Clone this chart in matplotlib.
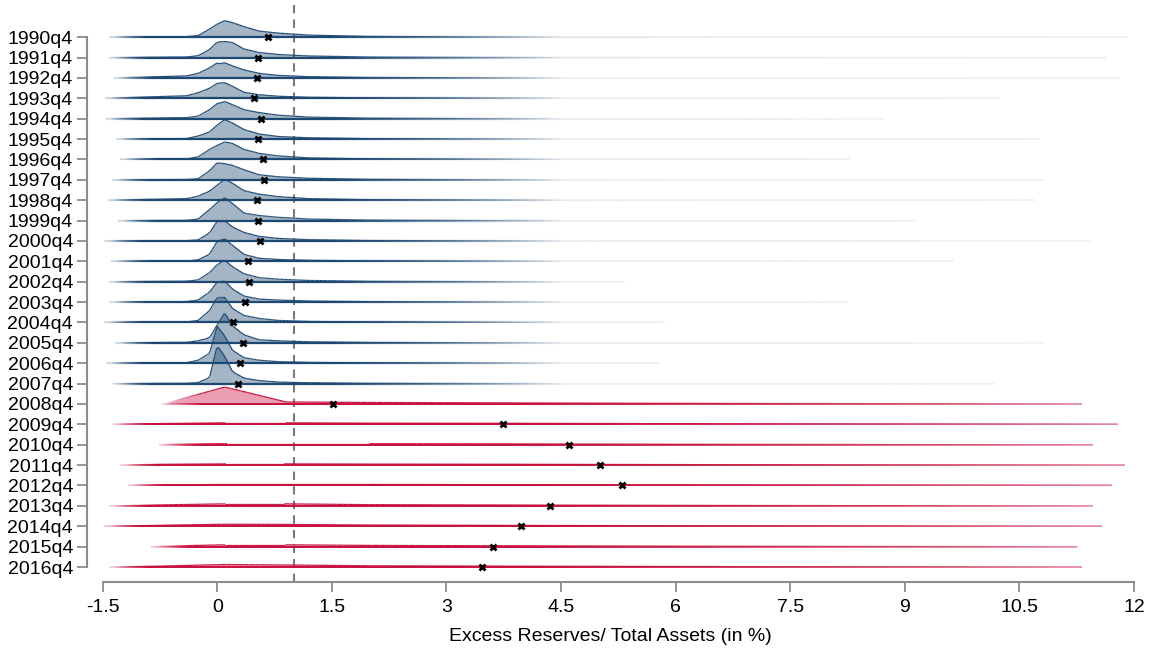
import numpy as np
import matplotlib
matplotlib.use("Agg")
import matplotlib.pyplot as plt
from matplotlib.collections import LineCollection
from matplotlib.colors import to_rgba

plt.rcParams['font.family'] = ['Liberation Sans', 'DejaVu Sans']

quarters = ['1990q4', '1991q4', '1992q4', '1993q4', '1994q4', '1995q4', '1996q4',
            '1997q4', '1998q4', '1999q4', '2000q4', '2001q4', '2002q4', '2003q4',
            '2004q4', '2005q4', '2006q4', '2007q4', '2008q4', '2009q4', '2010q4',
            '2011q4', '2012q4', '2013q4', '2014q4', '2015q4', '2016q4']

# mean excess reserves ratio per quarter (the x markers)
means = [0.66, 0.53, 0.52, 0.48, 0.57, 0.54, 0.60, 0.61, 0.52, 0.54, 0.56, 0.40,
         0.41, 0.36, 0.21, 0.34, 0.30, 0.27, 1.51, 3.74, 4.61, 5.01, 5.30, 4.35,
         3.97, 3.61, 3.46]

# range of observations per quarter
x_min = [-1.41, -1.42, -1.35, -1.47, -1.46, -1.33, -1.27, -1.38, -1.43, -1.30,
         -1.48, -1.39, -1.42, -1.41, -1.48, -1.34, -1.45, -1.37, -0.72, -1.38,
         -0.76, -1.27, -1.17, -1.41, -1.48, -0.87, -1.41]
x_max = [11.92, 11.64, 11.81, 10.24, 8.74, 10.77, 8.28, 10.83, 10.70, 9.13,
         11.42, 9.65, 5.34, 8.25, 5.86, 10.83, 5.79, 10.18, 11.32, 11.79,
         11.46, 11.88, 11.71, 11.46, 11.58, 11.26, 11.32]

# density estimates (pre-crisis quarters, 1990q4-2007q4)
blue_grid = [-0.4, -0.25, -0.1, 0.0, 0.1, 0.2, 0.35, 0.55, 0.8, 1.2, 2.0, 3.5]
blue_dens = [
    [0.5, 1.5, 8.0, 13.0, 16.5, 14.5, 10.5, 6.0, 4.0, 2.0, 0.7, 0.2],
    [0.5, 1.8, 8.0, 15.5, 16.0, 15.0, 8.5, 5.0, 3.0, 1.5, 0.5, 0.2],
    [2.0, 4.5, 10.0, 15.0, 15.0, 12.0, 8.0, 4.5, 2.5, 1.2, 0.4, 0.1],
    [2.5, 5.5, 10.0, 15.0, 15.5, 12.0, 6.0, 3.5, 2.0, 1.0, 0.4, 0.1],
    [1.0, 2.5, 9.0, 15.0, 17.0, 14.0, 9.0, 6.0, 3.5, 1.5, 0.5, 0.1],
    [0.5, 3.0, 7.0, 14.0, 19.5, 16.0, 9.5, 5.0, 2.5, 1.2, 0.4, 0.1],
    [0.5, 2.5, 10.0, 14.0, 17.5, 16.0, 10.0, 6.0, 3.5, 1.5, 0.5, 0.1],
    [0.3, 1.0, 9.0, 17.0, 16.0, 14.5, 10.0, 5.0, 3.0, 1.5, 0.5, 0.1],
    [1.5, 4.0, 9.0, 15.0, 21.0, 17.0, 9.5, 6.0, 3.5, 1.5, 0.5, 0.1],
    [0.2, 1.5, 11.0, 18.0, 23.0, 17.0, 7.5, 5.0, 3.2, 1.5, 0.5, 0.1],
    [0.3, 1.0, 8.0, 20.0, 20.0, 14.0, 8.5, 4.5, 2.5, 1.2, 0.4, 0.1],
    [0.3, 1.5, 7.0, 20.0, 22.5, 16.0, 7.0, 3.0, 1.8, 1.0, 0.4, 0.1],
    [0.5, 1.8, 9.0, 17.0, 21.5, 15.0, 8.0, 4.0, 2.5, 1.2, 0.4, 0.1],
    [0.5, 2.0, 10.0, 20.0, 21.0, 13.0, 6.0, 3.0, 2.0, 1.0, 0.4, 0.1],
    [0.5, 2.0, 12.0, 25.0, 25.0, 14.0, 7.0, 4.0, 2.0, 1.0, 0.4, 0.1],
    [0.5, 2.0, 5.0, 18.0, 30.0, 17.0, 8.0, 3.0, 2.0, 1.0, 0.4, 0.1],
    [0.5, 3.0, 10.0, 37.0, 27.0, 13.0, 5.5, 3.0, 1.5, 0.8, 0.3, 0.1],
    [0.3, 1.0, 6.0, 38.0, 27.0, 12.0, 5.5, 3.0, 1.5, 0.8, 0.3, 0.1],
]

# density estimates (crisis and post-crisis quarters, 2008q4-2016q4)
red_grid = [-1.0, -0.7, 0.1, 0.9, 2.0, 4.0, 7.0]
red_dens = [
    [0.0, 0.0, 17.0, 2.0, 1.5, 1.0, 0.5],
    [0.5, 0.8, 1.5, 1.5, 1.2, 1.0, 0.5],
    [0.0, 0.5, 1.0, 1.0, 1.0, 0.8, 0.4],
    [0.5, 0.8, 1.2, 1.2, 1.0, 0.8, 0.4],
    [0.3, 0.6, 1.0, 1.0, 1.0, 0.8, 0.4],
    [0.5, 1.0, 2.0, 2.0, 1.2, 0.8, 0.4],
    [0.5, 1.0, 2.0, 1.8, 1.2, 0.8, 0.4],
    [0.0, 0.5, 1.8, 1.8, 1.2, 0.8, 0.4],
    [0.5, 1.0, 2.5, 2.0, 1.2, 0.8, 0.4],
]

threshold = 1.0
xticks = [-1.5, 0, 1.5, 3, 4.5, 6, 7.5, 9, 10.5, 12]
xticklabels = ['-1.5', '0', '1.5', '3', '4.5', '6', '7.5', '9', '10.5', '12']

blue = '#1d4872'
red = '#c8103c'
grey = '#8c8c8c'
scale = 1 / 20.4   # density units -> row heights

fig = plt.figure(figsize=(11.54, 6.5), dpi=100)
ax = fig.add_axes([87 / 1154, 68 / 650, 1047 / 1154, 577 / 650])

n = len(quarters)


def faded_line(xs, ys, color, xmin, xmax, crisis, lw):
    xx = np.linspace(xs[0], xs[-1], 400)
    yy = np.interp(xx, xs, ys)
    mid = (xx[:-1] + xx[1:]) / 2
    left = np.clip((mid - xmin) / 0.5, 0.12, 1)
    if crisis:
        right = np.where(mid < 4, 1, 1 - 0.7 * (mid - 4) / max(xmax - 4, 0.1))
    else:
        right = np.where(mid < 1.5, 1, np.clip(1 - 0.95 * (mid - 1.5) / 3.0, 0.04, 1))
    alpha = left * right
    rgba = np.array([to_rgba(color, a) for a in alpha])
    segs = np.stack([np.column_stack([xx[:-1], yy[:-1]]),
                     np.column_stack([xx[1:], yy[1:]])], axis=1)
    ax.add_collection(LineCollection(segs, colors=rgba, linewidths=lw, capstyle='butt'))


for i, q in enumerate(quarters):
    base = n - 1 - i
    crisis = i >= len(blue_dens)
    if crisis:
        grid, dens, col = red_grid, red_dens[i - len(blue_dens)], red
    else:
        grid, dens, col = blue_grid, blue_dens[i], blue
    lo, hi = x_min[i], x_max[i]
    xs = [lo] + [g for g in grid if lo < g < hi] + [hi]
    hs = [0] + [d for g, d in zip(grid, dens) if lo < g < hi] + [0]
    xs = np.array(xs)
    ys = base + np.array(hs) * scale
    ax.fill_between(xs, base, ys, color=col, alpha=0.4, lw=0, zorder=2)
    faded_line(xs, np.full_like(xs, base), col, lo, hi, crisis, 1.4 if crisis else 1.6)
    faded_line(xs, ys, col, lo, hi, crisis, 0.9)

ax.plot(means, [n - 1 - i for i in range(n)], 'x', color='black', ms=5, mew=2, zorder=10)

ax.axvline(threshold, color='#7a7a7a', lw=1.5, ls=(0, (4, 3)), zorder=1)

ax.set_xlim(12 - 1047 / 76.4, 12)
ax.set_ylim(-15 / 20.38, -15 / 20.38 + 577 / 20.38)

ax.set_yticks([n - 1 - i for i in range(n)])
ax.set_yticklabels(quarters)
ax.set_xticks(xticks)
ax.set_xticklabels(xticklabels)
ax.tick_params(axis='both', length=7, width=1.3, color=grey, labelsize=14)
ax.tick_params(axis='y', pad=3)
ax.tick_params(axis='x', pad=5)

for s in ['top', 'right']:
    ax.spines[s].set_visible(False)
for s in ['left', 'bottom']:
    ax.spines[s].set_color(grey)
    ax.spines[s].set_linewidth(1.5)
ax.spines['left'].set_bounds(0, n - 1)
ax.spines['bottom'].set_bounds(-1.5, 12)

ax.set_xlabel('Excess Reserves/ Total Assets (in %)', fontsize=14, labelpad=9)

fig.savefig('out.png', dpi=100)
